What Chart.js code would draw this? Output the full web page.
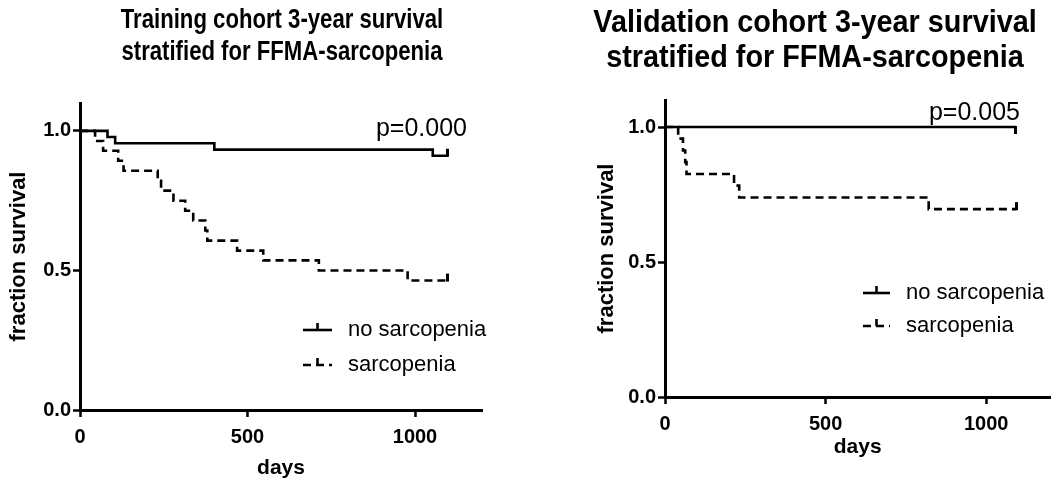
<!DOCTYPE html>
<html>
<head>
<meta charset="utf-8">
<script src="https://cdn.jsdelivr.net/npm/chart.js@4.4.1/dist/chart.umd.min.js"></script>
<style>
  html, body { margin: 0; padding: 0; background: #fff; }
  body { width: 1059px; height: 483px; position: relative; overflow: hidden; }
  .panel { position: absolute; top: 0; height: 483px; }
  #leftPanel { left: 0; width: 500px; }
  #rightPanel { left: 575px; width: 484px; }
</style>
</head>
<body>
<div class="panel" id="leftPanel"><canvas id="chartTraining"></canvas></div>
<div class="panel" id="rightPanel"><canvas id="chartValidation"></canvas></div>
<script>
/* ---- data ---- */
const dayTicks = [0, 500, 1000];
const survTicks = [0, 0.5, 1.0];
const seriesNames = ['no sarcopenia', 'sarcopenia'];

// training cohort
const trainNoSarcDays = [0, 82, 105, 401, 1053, 1098];
const trainNoSarcSurv = [1, 0.978, 0.956, 0.933, 0.911, 0.911];
const trainSarcDays = [0, 45, 69, 114, 130, 232, 242, 279, 314, 338, 374, 380, 469, 547, 713, 978, 1096];
const trainSarcSurv = [1, 0.964, 0.929, 0.893, 0.857, 0.821, 0.786, 0.750, 0.714, 0.679, 0.643, 0.607, 0.571, 0.536, 0.500, 0.464, 0.464];

// validation cohort
const validNoSarcDays = [0, 1092];
const validNoSarcSurv = [1, 1];
const validSarcDays = [0, 41, 56, 63, 67, 215, 231, 821, 1095];
const validSarcSurv = [1, 0.957, 0.913, 0.870, 0.826, 0.783, 0.739, 0.696, 0.696];

/* ---- helpers ---- */
const SANS = "'Liberation Sans', Arial, Helvetica, sans-serif";

Chart.defaults.color = '#000';
Chart.defaults.font.family = SANS;

// small vertical censor tick (up or down from the line)
function censorMark(dir) {
  const c = document.createElement('canvas');
  c.width = 3; c.height = 16;
  const g = c.getContext('2d');
  g.fillStyle = '#000';
  if (dir === 'up') g.fillRect(0, 1, 3, 8);
  else g.fillRect(0, 7, 3, 8);
  return c;
}

function toPoints(days, surv) {
  return days.map((d, i) => ({ x: d, y: surv[i] }));
}

function curve(label, days, surv, dash, censorDir) {
  return {
    label,
    data: toPoints(days, surv),
    borderColor: '#000',
    borderWidth: 2.6,
    borderDash: dash,
    stepped: 'before',
    fill: false,
    pointStyle: censorMark(censorDir),
    pointRadius: ctx => ctx.dataIndex === days.length - 1 ? 6 : 0,
    pointHoverRadius: 0,
  };
}

// two-line heading, squeezed like a narrow face
const kmTitle = {
  id: 'kmTitle',
  afterDraw(chart, args, o) {
    const ctx = chart.ctx;
    ctx.save();
    ctx.fillStyle = '#000';
    ctx.font = `bold ${o.size}px ${SANS}`;
    ctx.textAlign = 'center';
    ctx.textBaseline = 'middle';
    o.lines.forEach((line, i) => {
      ctx.save();
      ctx.translate(o.x, o.y + i * o.lineHeight);
      ctx.scale(o.sx, 1);
      ctx.fillText(line, 0, 0);
      ctx.restore();
    });
    ctx.restore();
  }
};

// legend drawn inside the plot, Prism style
const kmLegend = {
  id: 'kmLegend',
  afterDraw(chart, args, o) {
    const ctx = chart.ctx;
    ctx.save();
    chart.data.datasets.forEach((ds, i) => {
      const y = o.y + i * o.gap;
      ctx.strokeStyle = '#000';
      ctx.lineWidth = 2.6;
      ctx.setLineDash(ds.borderDash || []);
      ctx.beginPath();
      ctx.moveTo(o.x, y);
      ctx.lineTo(o.x + o.len, y);
      ctx.stroke();
      ctx.setLineDash([]);
      const mx = o.x + o.len / 2;
      ctx.beginPath();
      ctx.moveTo(mx, y);
      ctx.lineTo(mx, y - 7);
      ctx.stroke();
      ctx.fillStyle = '#000';
      ctx.font = `${o.size}px ${SANS}`;
      ctx.textBaseline = 'middle';
      ctx.textAlign = 'left';
      ctx.fillText(ds.label, o.x + o.len + o.space, y);
    });
    ctx.restore();
  }
};

const pValue = {
  id: 'pValue',
  afterDraw(chart, args, o) {
    const ctx = chart.ctx;
    ctx.save();
    ctx.fillStyle = '#000';
    ctx.font = `${o.size}px ${SANS}`;
    ctx.textAlign = 'right';
    ctx.textBaseline = 'middle';
    ctx.fillText(o.text, o.x, o.y);
    ctx.restore();
  }
};

function kmChart(canvasId, cfg) {
  return new Chart(document.getElementById(canvasId), {
    type: 'line',
    data: {
      datasets: [
        curve(seriesNames[0], cfg.noSarcDays, cfg.noSarcSurv, [], cfg.censor[0]),
        curve(seriesNames[1], cfg.sarcDays, cfg.sarcSurv, [8, 5], cfg.censor[1]),
      ]
    },
    options: {
      responsive: true,
      maintainAspectRatio: false,
      animation: false,
      layout: { padding: cfg.padding },
      plugins: {
        legend: { display: false },
        tooltip: { enabled: false },
        title: { display: false },
        kmTitle: cfg.title,
        kmLegend: cfg.legend,
        pValue: cfg.p,
      },
      scales: {
        x: {
          type: 'linear',
          min: 0,
          max: 1200,
          afterBuildTicks: s => { s.ticks = dayTicks.map(v => ({ value: v })); },
          afterFit: s => { s.height = cfg.xHeight; },
          grid: { drawOnChartArea: false, drawTicks: true, tickLength: 7, tickWidth: 2.5, color: '#000', tickColor: '#000' },
          border: { display: true, color: '#000', width: 3 },
          ticks: { color: '#000', font: { size: 20, weight: 'bold' }, padding: cfg.xTickPad, maxRotation: 0, autoSkip: false, callback: v => String(v) },
          title: { display: true, text: 'days', color: '#000', font: { size: 21, weight: 'bold' }, padding: { top: 0, bottom: cfg.xTitlePad } },
        },
        y: {
          min: 0,
          max: 1.1,
          afterBuildTicks: s => { s.ticks = survTicks.map(v => ({ value: v })); },
          afterFit: s => { s.width = cfg.yWidth; },
          grid: { drawOnChartArea: false, drawTicks: true, tickLength: 7, tickWidth: 2.5, color: '#000', tickColor: '#000' },
          border: { display: true, color: '#000', width: 3 },
          ticks: { color: '#000', font: { size: 20, weight: 'bold' }, padding: 2, callback: v => Number(v).toFixed(1) },
          title: { display: true, text: 'fraction survival', color: '#000', font: { size: 22, weight: 'bold' }, padding: { top: cfg.yTitlePad, bottom: 0 } },
        }
      }
    },
    plugins: [kmTitle, kmLegend, pValue]
  });
}

kmChart('chartTraining', {
  title: { lines: ['Training cohort 3-year survival', 'stratified for FFMA-sarcopenia'], size: 27, sx: 0.82, lineHeight: 32, x: 282, y: 21 },
  padding: { left: 0, right: 18, top: 103, bottom: 0 },
  noSarcDays: trainNoSarcDays, noSarcSurv: trainNoSarcSurv,
  sarcDays: trainSarcDays, sarcSurv: trainSarcSurv,
  censor: ['up', 'up'],
  xHeight: 73, xTickPad: 8, xTitlePad: 2,
  yWidth: 80, yTitlePad: 6,
  legend: { x: 303, y: 330, gap: 35, len: 29, space: 16, size: 22 },
  p: { text: 'p=0.000', x: 467, y: 129, size: 25 },
});

kmChart('chartValidation', {
  title: { lines: ['Validation cohort 3-year survival', 'stratified for FFMA-sarcopenia'], size: 32, sx: 0.9, lineHeight: 35, x: 240, y: 23 },
  padding: { left: 0, right: 4, top: 100, bottom: 0 },
  noSarcDays: validNoSarcDays, noSarcSurv: validNoSarcSurv,
  sarcDays: validSarcDays, sarcSurv: validSarcSurv,
  censor: ['down', 'up'],
  xHeight: 86, xTickPad: 8, xTitlePad: 23,
  yWidth: 90, yTitlePad: 19,
  legend: { x: 288, y: 293, gap: 33, len: 27, space: 16, size: 22 },
  p: { text: 'p=0.005', x: 445, y: 113, size: 25 },
});
</script>
</body>
</html>
